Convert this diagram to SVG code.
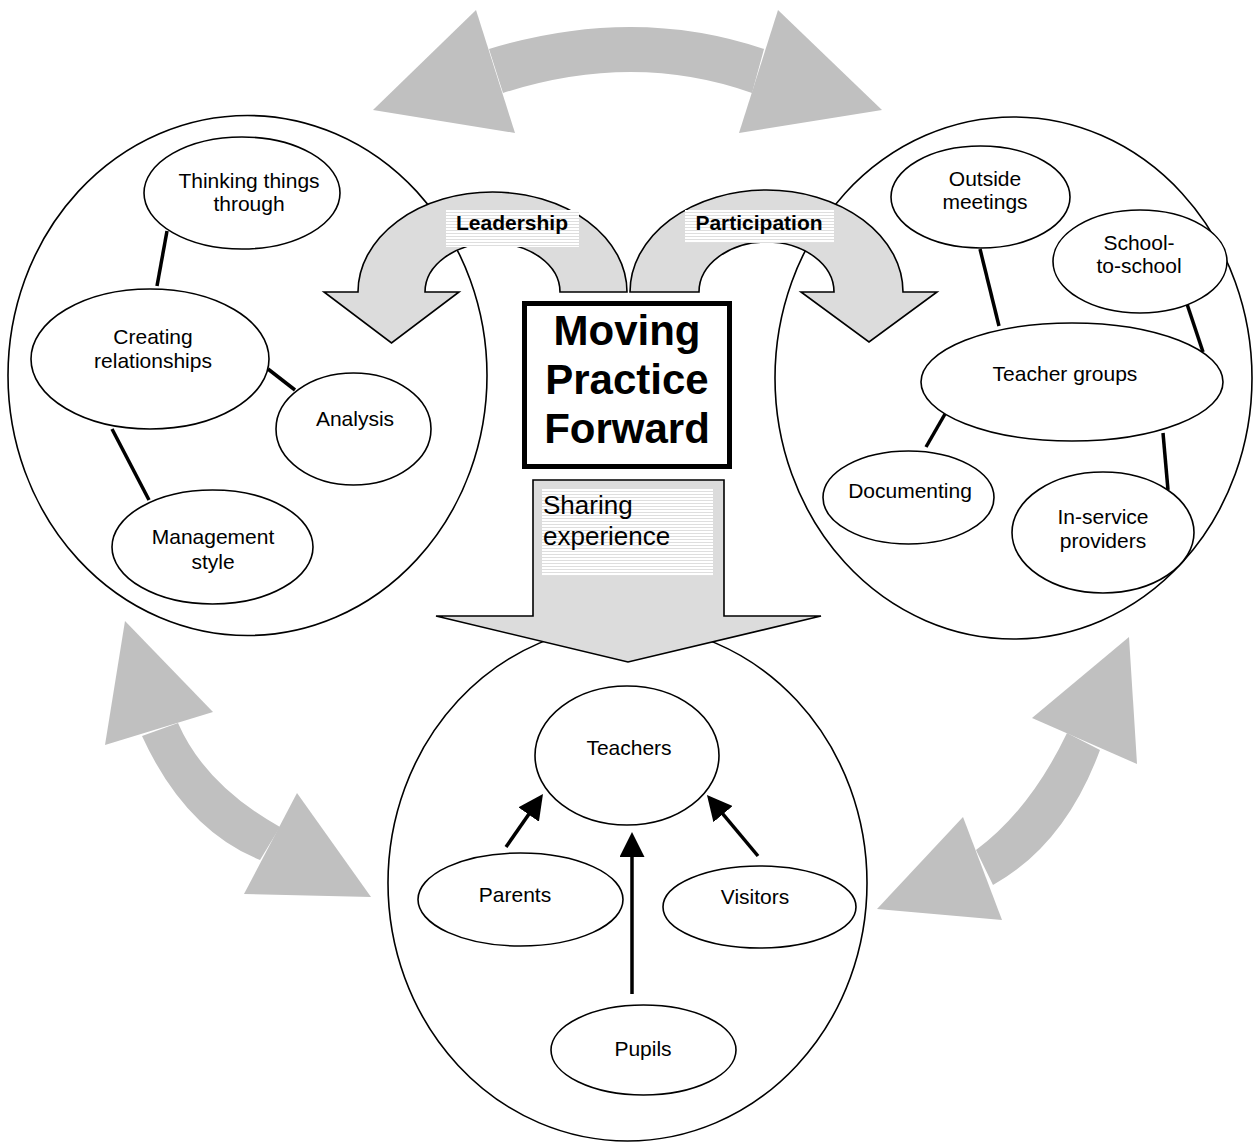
<svg xmlns="http://www.w3.org/2000/svg" width="1253" height="1142" viewBox="0 0 1253 1142">
<defs>
<style>
.big{fill:none;stroke:#000;stroke-width:1.6}
.node{fill:#fff;stroke:#000;stroke-width:1.6}
.lbl{font-family:"Liberation Sans",Arial,sans-serif;font-size:21px;fill:#000;text-anchor:middle}
.blbl{font-family:"Liberation Sans",Arial,sans-serif;font-size:21px;font-weight:bold;fill:#000;text-anchor:middle}
.title{font-family:"Liberation Sans",Arial,sans-serif;font-size:42px;font-weight:bold;fill:#000;text-anchor:middle}
.share{font-family:"Liberation Sans",Arial,sans-serif;font-size:26px;fill:#000}
.link{stroke:#000;stroke-width:3.5;fill:none}
.arw{stroke:#000;stroke-width:3.5;fill:none;marker-end:url(#head)}
.grey{fill:#c0c0c0;stroke:none}
.curved{fill:#dcdcdc;stroke:#000;stroke-width:1.6;stroke-linejoin:miter}
</style>
<pattern id="hlines" patternUnits="userSpaceOnUse" width="4" height="3">
<rect width="4" height="3" fill="#fff"/>
<rect y="2" width="4" height="1" fill="#dedede"/>
</pattern>
<marker id="head" markerUnits="userSpaceOnUse" viewBox="0 0 25 25" markerWidth="25" markerHeight="25" refX="17" refY="12.5" orient="auto">
<path d="M0,0 L25,12.5 L0,25 Z" fill="#000"/>
</marker>
</defs>
<rect width="1253" height="1142" fill="#fff"/>

<!-- big circles -->
<g id="circle-left"><ellipse class="big" cx="247.5" cy="375.5" rx="239.5" ry="260"/></g>
<g id="circle-right"><ellipse class="big" cx="1013.5" cy="378" rx="238.5" ry="261"/></g>
<g id="circle-bottom"><ellipse class="big" cx="627.5" cy="883" rx="239.5" ry="258"/></g>

<!-- connectors -->
<g id="connectors">
<line class="link" x1="167" y1="231" x2="157" y2="286"/>
<line class="link" x1="268" y1="369" x2="295" y2="390"/>
<line class="link" x1="112" y1="429" x2="149" y2="500"/>
<line class="link" x1="980" y1="249" x2="999" y2="326"/>
<line class="link" x1="1186" y1="301" x2="1203" y2="352"/>
<line class="link" x1="945" y1="414" x2="926" y2="447"/>
<line class="link" x1="1163" y1="433" x2="1168" y2="490"/>
<line class="arw" x1="506" y1="847" x2="538.4" y2="800.6"/>
<line class="arw" x1="632" y1="994" x2="632" y2="840"/>
<line class="arw" x1="758" y1="856" x2="712.1" y2="801.1"/>
</g>

<!-- left nodes -->
<g id="thinking"><ellipse class="node" cx="242" cy="193" rx="98" ry="56"/>
<text class="lbl" x="249" y="188">Thinking things</text><text class="lbl" x="249" y="211">through</text></g>
<g id="creating"><ellipse class="node" cx="150" cy="359" rx="119" ry="70"/>
<text class="lbl" x="153" y="344">Creating</text><text class="lbl" x="153" y="368">relationships</text></g>
<g id="analysis"><ellipse class="node" cx="353.5" cy="429" rx="77.5" ry="56"/>
<text class="lbl" x="355" y="426">Analysis</text></g>
<g id="management"><ellipse class="node" cx="212.5" cy="547" rx="100.5" ry="57"/>
<text class="lbl" x="213" y="544">Management</text><text class="lbl" x="213" y="569">style</text></g>

<!-- right nodes -->
<g id="outside"><ellipse class="node" cx="980.5" cy="197" rx="89.5" ry="51"/>
<text class="lbl" x="985" y="186">Outside</text><text class="lbl" x="985" y="209">meetings</text></g>
<g id="school"><ellipse class="node" cx="1140" cy="261.5" rx="87" ry="51.5"/>
<text class="lbl" x="1139" y="250">School-</text><text class="lbl" x="1139" y="273">to-school</text></g>
<g id="teachergroups"><ellipse class="node" cx="1072" cy="382" rx="151" ry="59"/>
<text class="lbl" x="1065" y="381">Teacher groups</text></g>
<g id="documenting"><ellipse class="node" cx="908.5" cy="497.5" rx="85.5" ry="46.5"/>
<text class="lbl" x="910" y="498">Documenting</text></g>
<g id="inservice"><ellipse class="node" cx="1103" cy="532.5" rx="91" ry="60.5"/>
<text class="lbl" x="1103" y="524">In-service</text><text class="lbl" x="1103" y="548">providers</text></g>

<!-- bottom nodes -->
<g id="teachers"><ellipse class="node" cx="627" cy="755.5" rx="92" ry="69.5"/>
<text class="lbl" x="629" y="755">Teachers</text></g>
<g id="parents"><ellipse class="node" cx="520.5" cy="899.5" rx="102.5" ry="46.5"/>
<text class="lbl" x="515" y="902">Parents</text></g>
<g id="visitors"><ellipse class="node" cx="759.5" cy="907" rx="96.5" ry="41"/>
<text class="lbl" x="755" y="904">Visitors</text></g>
<g id="pupils"><ellipse class="node" cx="643.5" cy="1050" rx="92.5" ry="45"/>
<text class="lbl" x="643" y="1056">Pupils</text></g>

<!-- curved arrows -->
<g id="leadership">
<path class="curved" d="M627,292 A134.5,100 0 0 0 358,292 L324,292 L391.5,343 L459,292 L425,292 A67.5,49 0 0 1 560,292 Z"/>
<rect x="446" y="210" width="133" height="37" fill="url(#hlines)"/>
<text class="blbl" x="512" y="230">Leadership</text>
</g>
<g id="participation">
<path class="curved" d="M630,292 A136.5,102 0 0 1 903,292 L937,292 L869,342 L801,292 L834,292 A67.5,50 0 0 0 699,292 Z"/>
<rect x="685" y="210" width="149" height="33" fill="url(#hlines)"/>
<text class="blbl" x="759" y="230">Participation</text>
</g>

<!-- central box -->
<g id="moving">
<rect x="524.5" y="303.5" width="205" height="163" fill="#fff" stroke="#000" stroke-width="5"/>
<text class="title" x="627" y="345">Moving</text>
<text class="title" x="627" y="394">Practice</text>
<text class="title" x="627" y="443">Forward</text>
</g>

<!-- sharing arrow -->
<g id="sharing">
<path class="curved" d="M533,480 L724,480 L724,616 L821,616 L628,662 L436,616 L533,616 Z"/>
<rect x="542" y="489" width="171" height="87" fill="url(#hlines)"/>
<text class="share" x="543" y="514">Sharing</text>
<text class="share" x="543" y="545">experience</text>
</g>

<!-- grey double arrows -->
<g id="arrow-top">
<path class="grey" d="M489,49 Q634,5 764,49 L752,93 Q634,51 503,93 Z"/>
<polygon class="grey" points="476,10 373,110 515,133"/>
<polygon class="grey" points="778,10 882,110 739,133"/>
</g>
<g id="arrow-left">
<path class="grey" d="M142,736 Q185,830 260,860 L280,827 Q205,785 178,723 Z"/>
<polygon class="grey" points="125,621 105,745 213,712"/>
<polygon class="grey" points="297,793 244,894 371,897"/>
</g>
<g id="arrow-right">
<path class="grey" d="M1067,733 Q1030,810 976,850 L993,885 Q1065,845 1100,750 Z"/>
<polygon class="grey" points="1129,637 1032,718 1137,764"/>
<polygon class="grey" points="963,817 877,909 1002,920"/>
</g>
</svg>
